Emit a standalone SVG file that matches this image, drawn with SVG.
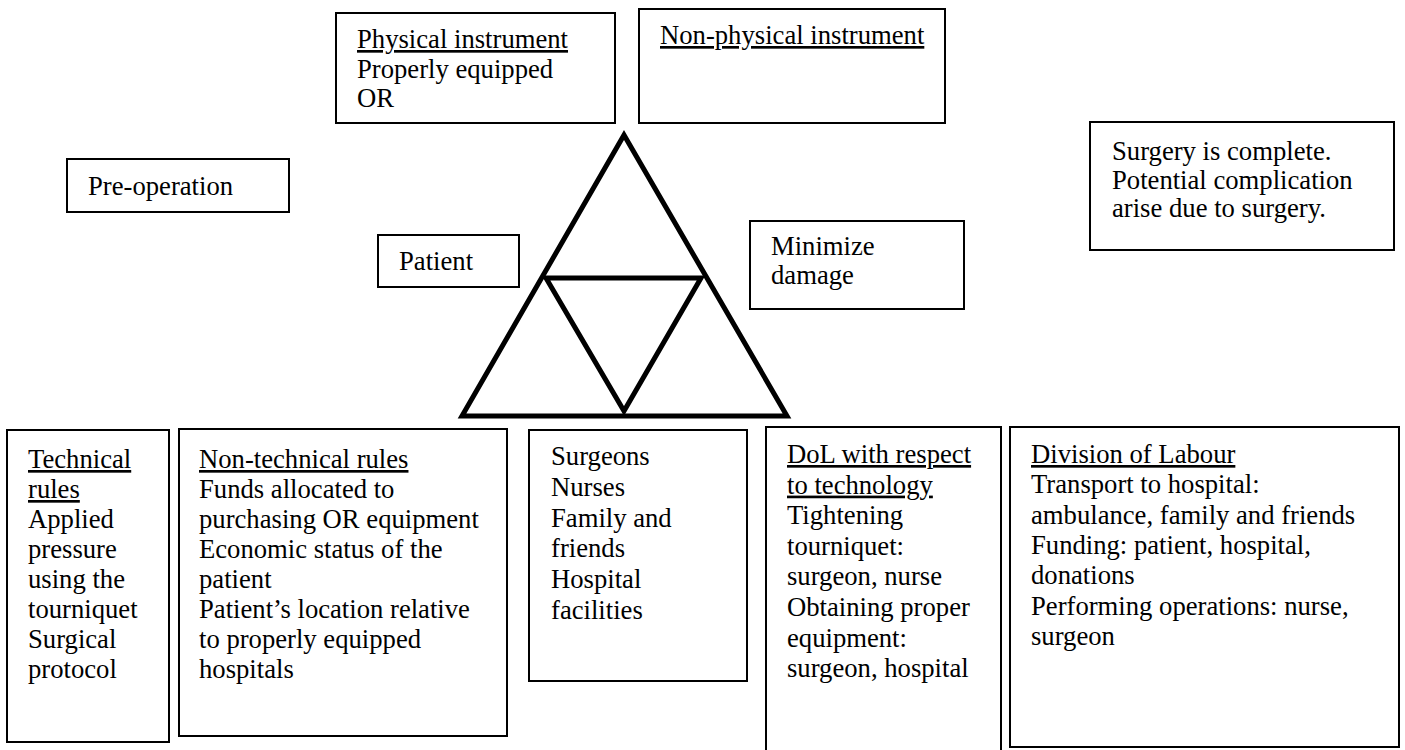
<svg xmlns="http://www.w3.org/2000/svg" width="1405" height="750" viewBox="0 0 1405 750" font-family="'Liberation Serif', 'Times New Roman', serif" font-size="26.67">
  <style>
    .box { fill: #ffffff; stroke: #000000; stroke-width: 2; }
    text { font-family: 'Liberation Serif', 'Times New Roman', serif; font-size: 26.67px; fill: #000000; }
    .u { text-decoration: underline; }
    .tri { fill: none; stroke: #000000; stroke-width: 5; stroke-linejoin: miter; }
  </style>
  <rect x="0" y="0" width="1405" height="750" fill="#ffffff"/>

  <!-- central activity triangle -->
  <g id="triangle">
    <polygon class="tri" points="624,135 462,416 787,416"/>
    <polygon class="tri" points="546,278 701,278 624,411"/>
  </g>

  <g id="physical-instrument">
    <rect class="box" x="336" y="13" width="279" height="110"/>
    <text x="357" y="48"><tspan class="u">Physical instrument</tspan></text>
    <text x="357" y="77.5">Properly equipped</text>
    <text x="357" y="107">OR</text>
  </g>

  <g id="non-physical-instrument">
    <rect class="box" x="639" y="9" width="306" height="114"/>
    <text x="660" y="44"><tspan class="u">Non-physical instrument</tspan></text>
  </g>

  <g id="pre-operation">
    <rect class="box" x="67" y="159" width="222" height="53"/>
    <text x="88" y="195">Pre-operation</text>
  </g>

  <g id="patient">
    <rect class="box" x="378" y="235" width="141" height="52"/>
    <text x="399" y="270">Patient</text>
  </g>

  <g id="minimize-damage">
    <rect class="box" x="750" y="221" width="214" height="88"/>
    <text x="771" y="255">Minimize</text>
    <text x="771" y="284">damage</text>
  </g>

  <g id="surgery-complete">
    <rect class="box" x="1090" y="122" width="304" height="128"/>
    <text x="1112" y="160">Surgery is complete.</text>
    <text x="1112" y="188.5">Potential complication</text>
    <text x="1112" y="217">arise due to surgery.</text>
  </g>

  <g id="technical-rules">
    <rect class="box" x="7" y="430" width="162" height="312"/>
    <text x="28" y="468"><tspan class="u">Technical</tspan></text>
    <text x="28" y="498"><tspan class="u">rules</tspan></text>
    <text x="28" y="528">Applied</text>
    <text x="28" y="558">pressure</text>
    <text x="28" y="588">using the</text>
    <text x="28" y="618">tourniquet</text>
    <text x="28" y="648">Surgical</text>
    <text x="28" y="678">protocol</text>
  </g>

  <g id="non-technical-rules">
    <rect class="box" x="179" y="429" width="328" height="307"/>
    <text x="199" y="468"><tspan class="u">Non-technical rules</tspan></text>
    <text x="199" y="498">Funds allocated to</text>
    <text x="199" y="528">purchasing OR equipment</text>
    <text x="199" y="558">Economic status of the</text>
    <text x="199" y="588">patient</text>
    <text x="199" y="618">Patient’s location relative</text>
    <text x="199" y="648">to properly equipped</text>
    <text x="199" y="678">hospitals</text>
  </g>

  <g id="community">
    <rect class="box" x="529" y="430" width="218" height="251"/>
    <text x="551" y="465">Surgeons</text>
    <text x="551" y="495.8">Nurses</text>
    <text x="551" y="526.6">Family and</text>
    <text x="551" y="557.4">friends</text>
    <text x="551" y="588.2">Hospital</text>
    <text x="551" y="619">facilities</text>
  </g>

  <g id="dol-technology">
    <rect class="box" x="766" y="427" width="235" height="340"/>
    <text x="787" y="463"><tspan class="u">DoL with respect</tspan></text>
    <text x="787" y="493.6"><tspan class="u">to technology</tspan></text>
    <text x="787" y="524.2">Tightening</text>
    <text x="787" y="554.8">tourniquet:</text>
    <text x="787" y="585.4">surgeon, nurse</text>
    <text x="787" y="616">Obtaining proper</text>
    <text x="787" y="646.6">equipment:</text>
    <text x="787" y="677">surgeon, hospital</text>
  </g>

  <g id="division-of-labour">
    <rect class="box" x="1010" y="427" width="389" height="320"/>
    <text x="1031" y="463"><tspan class="u">Division of Labour</tspan></text>
    <text x="1031" y="493.3">Transport to hospital:</text>
    <text x="1031" y="523.6">ambulance, family and friends</text>
    <text x="1031" y="553.9">Funding: patient, hospital,</text>
    <text x="1031" y="584.2">donations</text>
    <text x="1031" y="614.5">Performing operations: nurse,</text>
    <text x="1031" y="645">surgeon</text>
  </g>
</svg>
